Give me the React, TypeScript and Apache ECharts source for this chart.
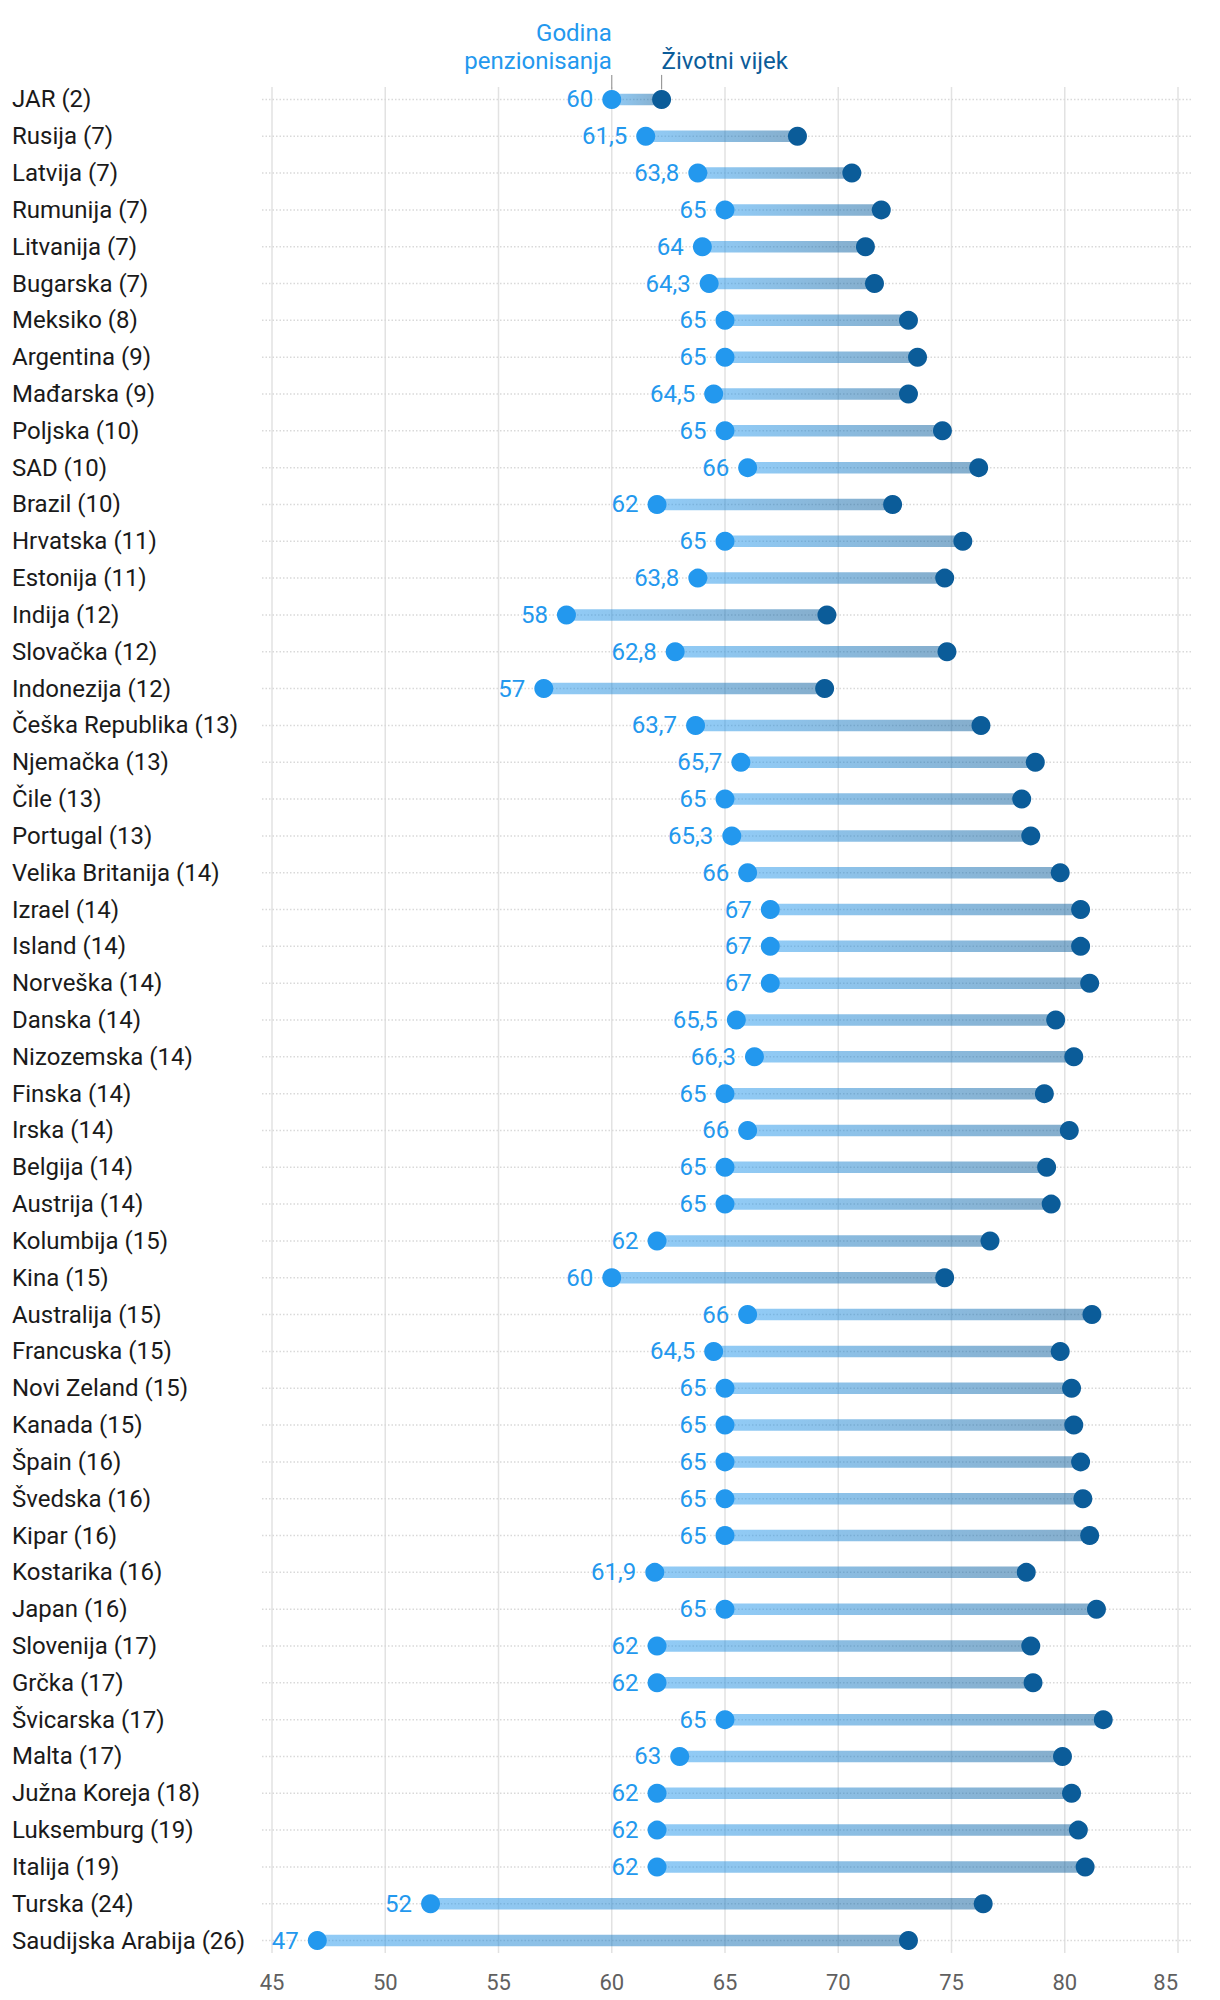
import React, { useEffect, useRef } from "react";
import * as echarts from "echarts";

const categories = [
  "JAR (2)", "Rusija (7)", "Latvija (7)", "Rumunija (7)", "Litvanija (7)", "Bugarska (7)",
  "Meksiko (8)", "Argentina (9)", "Mađarska (9)", "Poljska (10)", "SAD (10)", "Brazil (10)",
  "Hrvatska (11)", "Estonija (11)", "Indija (12)", "Slovačka (12)", "Indonezija (12)",
  "Češka Republika (13)", "Njemačka (13)", "Čile (13)", "Portugal (13)", "Velika Britanija (14)",
  "Izrael (14)", "Island (14)", "Norveška (14)", "Danska (14)", "Nizozemska (14)", "Finska (14)",
  "Irska (14)", "Belgija (14)", "Austrija (14)", "Kolumbija (15)", "Kina (15)", "Australija (15)",
  "Francuska (15)", "Novi Zeland (15)", "Kanada (15)", "Špain (16)", "Švedska (16)", "Kipar (16)",
  "Kostarika (16)", "Japan (16)", "Slovenija (17)", "Grčka (17)", "Švicarska (17)", "Malta (17)",
  "Južna Koreja (18)", "Luksemburg (19)", "Italija (19)", "Turska (24)", "Saudijska Arabija (26)",
];

const retirementAge = [
  60, 61.5, 63.8, 65, 64, 64.3, 65, 65, 64.5, 65, 66, 62, 65, 63.8, 58, 62.8, 57, 63.7, 65.7, 65,
  65.3, 66, 67, 67, 67, 65.5, 66.3, 65, 66, 65, 65, 62, 60, 66, 64.5, 65, 65, 65, 65, 65, 61.9, 65,
  62, 62, 65, 63, 62, 62, 62, 52, 47,
];

const lifeExpectancy = [
  62.2, 68.2, 70.6, 71.9, 71.2, 71.6, 73.1, 73.5, 73.1, 74.6, 76.2, 72.4, 75.5, 74.7, 69.5, 74.8,
  69.4, 76.3, 78.7, 78.1, 78.5, 79.8, 80.7, 80.7, 81.1, 79.6, 80.4, 79.1, 80.2, 79.2, 79.4, 76.7,
  74.7, 81.2, 79.8, 80.3, 80.4, 80.7, 80.8, 81.1, 78.3, 81.4, 78.5, 78.6, 81.7, 79.9, 80.3, 80.6,
  80.9, 76.4, 73.1,
];

const xTicks = [45, 50, 55, 60, 65, 70, 75, 80, 85];

const seriesNames = ["Godina\npenzionisanja", "Životni vijek"];

const LIGHT = "#2398ee";
const DARK = "#0b5c99";
const FONT = "Roboto";

export default function App() {
  const ref = useRef<HTMLDivElement>(null);

  useEffect(() => {
    if (!ref.current) return;
    const chart = echarts.init(ref.current, null, { renderer: "svg" });
    const last = categories.length - 1;

    const option = {
      animation: false,
      backgroundColor: "#ffffff",
      grid: { left: 272, right: 42, top: 81, bottom: 41, containLabel: false },
      xAxis: {
        type: "value",
        min: 45,
        max: 85,
        interval: 5,
        axisLine: { show: false },
        axisTick: { show: false },
        splitLine: { show: false },
        axisLabel: {
          fontSize: 22,
          color: "#606060",
          fontFamily: FONT,
          margin: 12,
          alignMaxLabel: "right",
        },
      },
      yAxis: {
        type: "category",
        inverse: true,
        data: categories,
        axisLine: { show: false },
        axisTick: { show: false },
        splitLine: { show: false },
        axisLabel: {
          align: "left",
          margin: 260,
          fontSize: 24,
          color: "#1a1a1a",
          fontFamily: FONT,
        },
      },
      series: [
        {
          type: "custom",
          name: "vgrid",
          silent: true,
          clip: false,
          z: 0,
          data: xTicks.map((v) => [v, 0]),
          renderItem: (params: any, api: any) => {
            const v = api.value(0);
            const t = api.coord([v, 0]);
            const b = api.coord([v, last]);
            return {
              type: "line",
              shape: { x1: t[0], y1: t[1] - 12.5, x2: t[0], y2: b[1] + 12.5 },
              style: { stroke: "#e2e2e2", lineWidth: 1.5 },
            };
          },
        },
        {
          type: "custom",
          name: "hgrid",
          silent: true,
          clip: false,
          z: 1,
          data: categories.map((_, i) => [45, i]),
          renderItem: (params: any, api: any) => {
            const cs = params.coordSys;
            const p = api.coord([45, api.value(1)]);
            return {
              type: "line",
              shape: { x1: cs.x - 10, y1: p[1], x2: cs.x + cs.width + 13, y2: p[1] },
              style: { stroke: "#d9d9d9", lineWidth: 1.5, lineDash: [1.5, 2] },
            };
          },
        },
        {
          type: "custom",
          name: "bars",
          silent: true,
          clip: false,
          z: 2,
          encode: { x: [0, 1], y: 2 },
          data: categories.map((_, i) => [retirementAge[i], lifeExpectancy[i], i]),
          renderItem: (params: any, api: any) => {
            const s = api.coord([api.value(0), api.value(2)]);
            const e = api.coord([api.value(1), api.value(2)]);
            return {
              type: "rect",
              shape: { x: s[0], y: s[1] - 5.75, width: e[0] - s[0], height: 11.5 },
              style: {
                fill: new echarts.graphic.LinearGradient(0, 0, 1, 0, [
                  { offset: 0, color: "rgba(35,152,238,0.5)" },
                  { offset: 1, color: "rgba(11,92,153,0.5)" },
                ]),
              },
            };
          },
        },
        {
          type: "scatter",
          name: seriesNames[0],
          z: 3,
          symbol: "circle",
          symbolSize: 19,
          itemStyle: { color: LIGHT, opacity: 1 },
          data: retirementAge.map((v, i) => [v, i]),
          label: {
            show: true,
            position: "left",
            distance: 9,
            fontSize: 24,
            fontFamily: FONT,
            color: LIGHT,
            formatter: (p: any) => String(p.value[0]).replace(".", ","),
          },
        },
        {
          type: "scatter",
          name: seriesNames[1],
          z: 3,
          symbol: "circle",
          symbolSize: 19,
          itemStyle: { color: DARK, opacity: 1 },
          data: lifeExpectancy.map((v, i) => [v, i]),
        },
        {
          type: "custom",
          name: "header",
          silent: true,
          clip: false,
          z: 4,
          encode: { x: [0, 1], y: 2 },
          data: [[retirementAge[0], lifeExpectancy[0], 0]],
          renderItem: (params: any, api: any) => {
            const s = api.coord([api.value(0), api.value(2)]);
            const e = api.coord([api.value(1), api.value(2)]);
            const textBottom = s[1] - 24.5;
            return {
              type: "group",
              children: [
                {
                  type: "line",
                  shape: { x1: s[0], y1: textBottom, x2: s[0], y2: s[1] - 10 },
                  style: { stroke: "#9a9a9a", lineWidth: 1.2 },
                },
                {
                  type: "line",
                  shape: { x1: e[0], y1: textBottom, x2: e[0], y2: e[1] - 10 },
                  style: { stroke: "#9a9a9a", lineWidth: 1.2 },
                },
                {
                  type: "text",
                  x: s[0],
                  y: textBottom,
                  style: {
                    text: seriesNames[0],
                    fill: LIGHT,
                    fontSize: 24,
                    fontFamily: FONT,
                    lineHeight: 28,
                    align: "right",
                    verticalAlign: "bottom",
                  },
                },
                {
                  type: "text",
                  x: e[0],
                  y: textBottom,
                  style: {
                    text: seriesNames[1],
                    fill: DARK,
                    fontSize: 24,
                    fontFamily: FONT,
                    lineHeight: 28,
                    align: "left",
                    verticalAlign: "bottom",
                  },
                },
              ],
            };
          },
        },
      ],
    };

    chart.setOption(option as any);
    return () => chart.dispose();
  }, []);

  return (
    <div
      ref={ref}
      style={{ position: "absolute", left: 0, top: 0, width: 1220, height: 2000, background: "#fff" }}
    />
  );
}
